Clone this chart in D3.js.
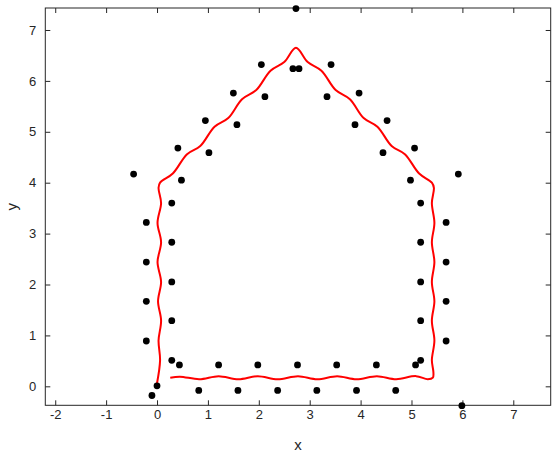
<!DOCTYPE html>
<html lang="en">
<head>
  <meta charset="UTF-8">
  <script src="https://d3js.org/d3.v7.min.js"></script>
  <style>
    body {
      margin: 0;
      padding: 0;
      background-color: #fff;
      font-family: "Liberation Sans", Arial, sans-serif;
    }
    .axis text {
      font-size: 13px;
      fill: #262626;
      font-family: "Liberation Sans", Arial, sans-serif;
    }
    .axis line {
      stroke: #262626;
    }
    .axis path {
      display: none;
    }
  </style>
</head>
<body>
  <div id="chart"></div>

  <script>
    const width = 556, height = 453;

    // scattered points (x, y)
    const pointsX = [
      -0.21, -0.21, -0.21, -0.21,
      0.29, 0.29, 0.29, 0.29, 0.29,
      0.00, -0.10,
      0.44, 1.21, 1.98, 2.76, 3.53, 4.31, 5.08,
      0.82, 1.59, 2.37, 3.14, 3.92, 4.69, 5.99,
      5.18, 5.18, 5.18, 5.18, 5.18,
      5.68, 5.68, 5.68, 5.68,
      -0.46, 0.48, 0.41, 1.02, 0.95, 1.57, 1.50, 2.12, 2.05, 2.67, 2.79, 2.73,
      3.42, 3.34, 3.97, 3.89, 4.52, 4.44, 5.06, 4.98, 5.92
    ];
    const pointsY = [
      3.22, 2.44, 1.67, 0.89,
      3.60, 2.83, 2.05, 1.29, 0.51,
      0.01, -0.18,
      0.42, 0.42, 0.42, 0.42, 0.42, 0.42, 0.42,
      -0.08, -0.08, -0.08, -0.08, -0.08, -0.08, -0.38,
      0.51, 1.29, 2.05, 2.83, 3.60,
      0.89, 1.67, 2.44, 3.22,
      4.17, 4.05, 4.68, 4.59, 5.22, 5.14, 5.76, 5.69, 6.32, 6.24, 6.24, 7.42,
      6.32, 5.69, 5.76, 5.14, 5.22, 4.59, 4.68, 4.05, 4.17
    ];

    // fitted curve
    const curveX = [
      0.00, 0.06, 0.03, 0.08, 0.02, 0.08, 0.01, 0.08, 0.01, 0.08, 0.03, 0.06,
      0.31, 0.59, 0.85, 1.13, 1.40, 1.67, 1.95, 2.23, 2.50, 2.73,
      2.96, 3.23, 3.51, 3.79, 4.06, 4.33, 4.61, 4.87, 5.15, 5.40,
      5.44, 5.40, 5.45, 5.40, 5.45, 5.40, 5.45, 5.40, 5.45, 5.40, 5.43, 5.42, 5.32,
      5.09, 4.70, 4.32, 3.92, 3.54, 3.15, 2.77, 2.37, 1.98, 1.60, 1.21, 0.83, 0.45, 0.26
    ];
    const curveY = [
      0.06, 0.51, 0.90, 1.29, 1.67, 2.05, 2.44, 2.83, 3.21, 3.60, 3.90, 4.00,
      4.18, 4.56, 4.72, 5.10, 5.27, 5.64, 5.82, 6.20, 6.37, 6.65,
      6.37, 6.20, 5.82, 5.64, 5.27, 5.10, 4.72, 4.56, 4.18, 4.00,
      3.90, 3.60, 3.21, 2.83, 2.44, 2.05, 1.67, 1.29, 0.90, 0.51, 0.28, 0.17, 0.14,
      0.20, 0.14, 0.20, 0.14, 0.20, 0.14, 0.20, 0.14, 0.20, 0.14, 0.20, 0.14, 0.19, 0.17
    ];

    const xTicks = [-2, -1, 0, 1, 2, 3, 4, 5, 6, 7];
    const yTicks = [0, 1, 2, 3, 4, 5, 6, 7];
    const xDomain = [-2.195, 7.735];
    const yDomain = [-0.373, 7.432];

    const plot = { left: 45.3, right: 550.7, top: 8, bottom: 405.3 };

    const svg = d3.select("#chart")
      .append("svg")
      .attr("width", width)
      .attr("height", height);

    const x = d3.scaleLinear().domain(xDomain).range([plot.left, plot.right]);
    const y = d3.scaleLinear().domain(yDomain).range([plot.bottom, plot.top]);

    // plain hyphen for negatives, like the original
    const fmt = d => String(d);

    // axes, ticks pointing inward like matlab
    svg.append("g")
      .attr("class", "axis")
      .attr("transform", `translate(0,${plot.bottom})`)
      .call(d3.axisBottom(x).tickValues(xTicks).tickFormat(fmt).tickSizeInner(-5).tickSizeOuter(0).tickPadding(4));

    svg.append("g")
      .attr("class", "axis")
      .attr("transform", `translate(${plot.left},0)`)
      .call(d3.axisLeft(y).tickValues(yTicks).tickFormat(fmt).tickSizeInner(-5).tickSizeOuter(0).tickPadding(9));

    svg.append("g")
      .attr("class", "axis")
      .attr("transform", `translate(0,${plot.top})`)
      .call(d3.axisTop(x).tickValues(xTicks).tickSizeInner(-5).tickSizeOuter(0).tickFormat(""));

    svg.append("g")
      .attr("class", "axis")
      .attr("transform", `translate(${plot.right},0)`)
      .call(d3.axisRight(y).tickValues(yTicks).tickSizeInner(-5).tickSizeOuter(0).tickFormat(""));

    svg.append("rect")
      .attr("x", plot.left)
      .attr("y", plot.top)
      .attr("width", plot.right - plot.left)
      .attr("height", plot.bottom - plot.top)
      .attr("fill", "none")
      .attr("stroke", "#262626")
      .attr("stroke-width", 1);

    // axis labels
    svg.append("text")
      .attr("x", (plot.left + plot.right) / 2)
      .attr("y", 450)
      .attr("text-anchor", "middle")
      .attr("font-size", 15)
      .attr("fill", "#262626")
      .text("x");

    svg.append("text")
      .attr("transform", `translate(17,${(plot.top + plot.bottom) / 2}) rotate(-90)`)
      .attr("text-anchor", "middle")
      .attr("font-size", 15)
      .attr("fill", "#262626")
      .text("y");

    // red curve
    const curvePts = curveX.map((d, i) => [d, curveY[i]]);
    const line = d3.line()
      .x(d => x(d[0]))
      .y(d => y(d[1]))
      .curve(d3.curveCatmullRom.alpha(0.5));

    svg.append("path")
      .datum(curvePts)
      .attr("d", line)
      .attr("fill", "none")
      .attr("stroke", "#ff0000")
      .attr("stroke-width", 2);

    // black dots
    svg.append("g")
      .selectAll("circle")
      .data(pointsX.map((d, i) => [d, pointsY[i]]))
      .enter()
      .append("circle")
      .attr("cx", d => x(d[0]))
      .attr("cy", d => y(d[1]))
      .attr("r", 3.4)
      .attr("fill", "#000");
  </script>
</body>
</html>
